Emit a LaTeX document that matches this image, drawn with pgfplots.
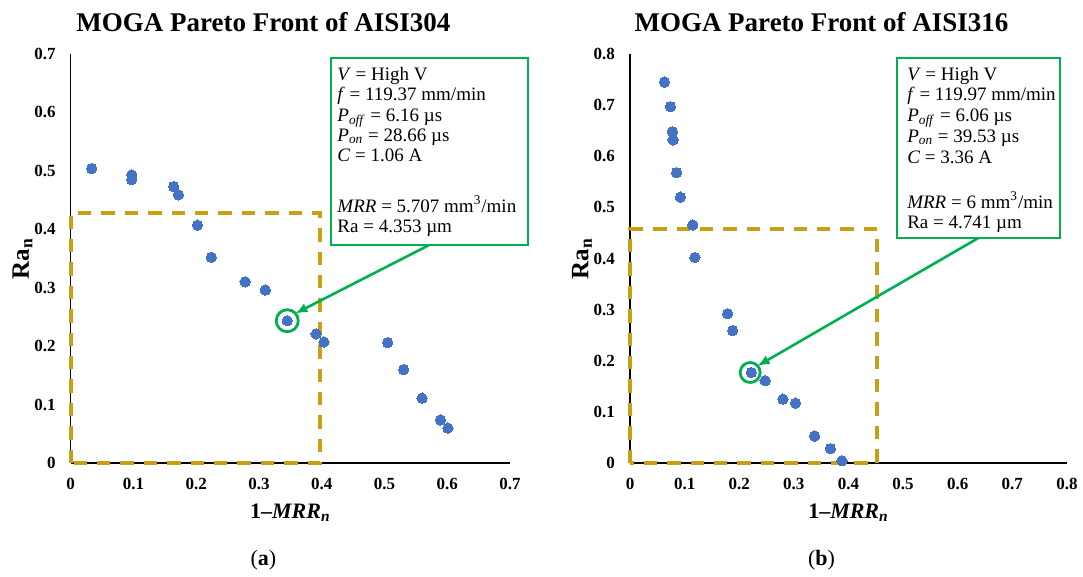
\documentclass[border=0pt]{standalone}
\usepackage{pgfplots}
\pgfplotsset{compat=1.18}
\usepackage{fontspec}
\setmainfont{Liberation Serif}
\usetikzlibrary{arrows.meta}
\definecolor{ptblue}{HTML}{4472C4}
\definecolor{gold}{RGB}{201,160,18}
\definecolor{xgreen}{HTML}{00B050}

\pgfplotsset{
 mystyle/.style={
  scale only axis,
  axis x line=bottom, axis y line=left,
  axis line style={-, black, line width=0.75pt},
  major tick length=0pt,
  tick label style={font=\fontsize{8.5}{10}\selectfont\bfseries},
  /pgf/number format/assume math mode=true,
  every y tick label/.append style={xshift=-4pt},
  every x tick label/.append style={yshift=-4pt},
  every axis x label/.style={at={(axis description cs:0.5,0)}, anchor=center, yshift=-25pt, font=\fontsize{11}{13}\selectfont\bfseries},
  every axis y label/.style={at={(axis description cs:-0.11,0.5)}, anchor=center, rotate=90, font=\fontsize{12.5}{14}\selectfont\bfseries},
  every axis title/.style={at={(axis description cs:0.5,1)}, anchor=center, xshift=-13.5pt, yshift=16pt, font=\fontsize{13.5}{16}\selectfont\bfseries},
  clip=false,
  xmin=0, ymin=0,
  xlabel={1--\textit{MRR}\textsubscript{\textit{n}}},
  ylabel={Ra\textsubscript{n}},
 }
}

\begin{document}
\begin{tikzpicture}
\useasboundingbox (-35.35pt,-57pt) rectangle (506.15pt,231.5pt);

% ---------------- (a) AISI304 ----------------
\begin{axis}[mystyle,
  at={(0pt,0pt)}, anchor=south west,
  width=219.7pt, height=204.5pt,
  xmax=0.7, ymax=0.7,
  xtick={0,0.1,0.2,0.3,0.4,0.5,0.6,0.7},
  ytick={0,0.1,0.2,0.3,0.4,0.5,0.6,0.7},
  title={MOGA Pareto Front of AISI304},
]
\draw[gold, line width=2pt, dash pattern=on 6.7pt off 5pt] (axis cs:0,0) rectangle (axis cs:0.3975,0.428);
\addplot[only marks, color=ptblue, mark=*, mark size=2.6pt, mark options={draw=ptblue, fill=ptblue, line width=0pt}] coordinates {
(0.0335,0.504) (0.0973,0.493) (0.0973,0.485) (0.164,0.473) (0.1715,0.459)
(0.202,0.407) (0.224,0.352) (0.278,0.310) (0.310,0.296) (0.345,0.2435)
(0.391,0.221) (0.4035,0.207) (0.505,0.206) (0.5305,0.160) (0.5597,0.111)
(0.589,0.0736) (0.601,0.0598)
};
\addplot[only marks, mark=o, mark size=5.5pt, line width=1.4pt, xgreen] coordinates {(0.345,0.2435)};
\draw[xgreen, line width=1.3pt, -{Latex[length=6pt,width=5pt]}] (axis cs:0.571,0.373) -- (axis cs:0.358,0.256);
\draw[xgreen, line width=1pt, fill=white] (axis cs:0.4148,0.373) rectangle (axis cs:0.729,0.6935);
\node[anchor=north west, inner sep=0pt, align=left, font=\fontsize{9.5}{10.2}\selectfont]
  at ([xshift=3pt,yshift=-4.5pt]axis cs:0.4148,0.6935) {%
\textit{V} = High V\\
\textit{f} = 119.37 mm/min\\
\textit{P}\textsubscript{\textit{off}} = 6.16 µs\\
\textit{P}\textsubscript{\textit{on}} = 28.66 µs\\
\textit{C} = 1.06 A\\[15pt]
\textit{MRR} = 5.707 mm\textsuperscript{3}/min\\
Ra = 4.353 µm};
\node[font=\fontsize{11}{13}\selectfont] at ([xshift=-13.5pt,yshift=-48.5pt]axis description cs:0.5,0) {(\textbf{a})};
\end{axis}

% ---------------- (b) AISI316 ----------------
\begin{axis}[mystyle,
  at={(279.65pt,0pt)}, anchor=south west,
  width=218.5pt, height=204.5pt,
  xmax=0.8, ymax=0.8,
  xtick={0,0.1,0.2,0.3,0.4,0.5,0.6,0.7,0.8},
  ytick={0,0.1,0.2,0.3,0.4,0.5,0.6,0.7,0.8},
  title={MOGA Pareto Front of AISI316},
]
\draw[gold, line width=2pt, dash pattern=on 6.7pt off 5pt] (axis cs:0,0) rectangle (axis cs:0.453,0.458);
\addplot[only marks, color=ptblue, mark=*, mark size=2.6pt, mark options={draw=ptblue, fill=ptblue, line width=0pt}] coordinates {
(0.0631,0.745) (0.0739,0.697) (0.0777,0.648) (0.0789,0.632) (0.0852,0.568)
(0.0922,0.520) (0.1149,0.4656) (0.1187,0.402) (0.1787,0.292) (0.188,0.259)
(0.222,0.177) (0.2475,0.161) (0.280,0.125) (0.303,0.117) (0.338,0.0526)
(0.367,0.0281) (0.388,0.0043)
};
\addplot[only marks, mark=o, mark size=5pt, line width=1.4pt, xgreen] coordinates {(0.220,0.177)};
\draw[xgreen, line width=1.3pt, -{Latex[length=6pt,width=5pt]}] (axis cs:0.6376,0.440) -- (axis cs:0.2336,0.190);
\draw[xgreen, line width=1pt, fill=white] (axis cs:0.4886,0.440) rectangle (axis cs:0.788,0.793);
\node[anchor=north west, inner sep=0pt, align=left, font=\fontsize{9.5}{10.4}\selectfont]
  at ([xshift=5pt,yshift=-4.5pt]axis cs:0.4886,0.793) {%
\textit{V} = High V\\
\textit{f} = 119.97 mm/min\\
\textit{P}\textsubscript{\textit{off}} = 6.06 µs\\
\textit{P}\textsubscript{\textit{on}} = 39.53 µs\\
\textit{C} = 3.36 A\\[12pt]
\textit{MRR} = 6 mm\textsuperscript{3}/min\\
Ra = 4.741 µm};
\node[font=\fontsize{11}{13}\selectfont] at ([xshift=-13.5pt,yshift=-48.5pt]axis description cs:0.5,0) {(\textbf{b})};
\end{axis}
\end{tikzpicture}
\end{document}
